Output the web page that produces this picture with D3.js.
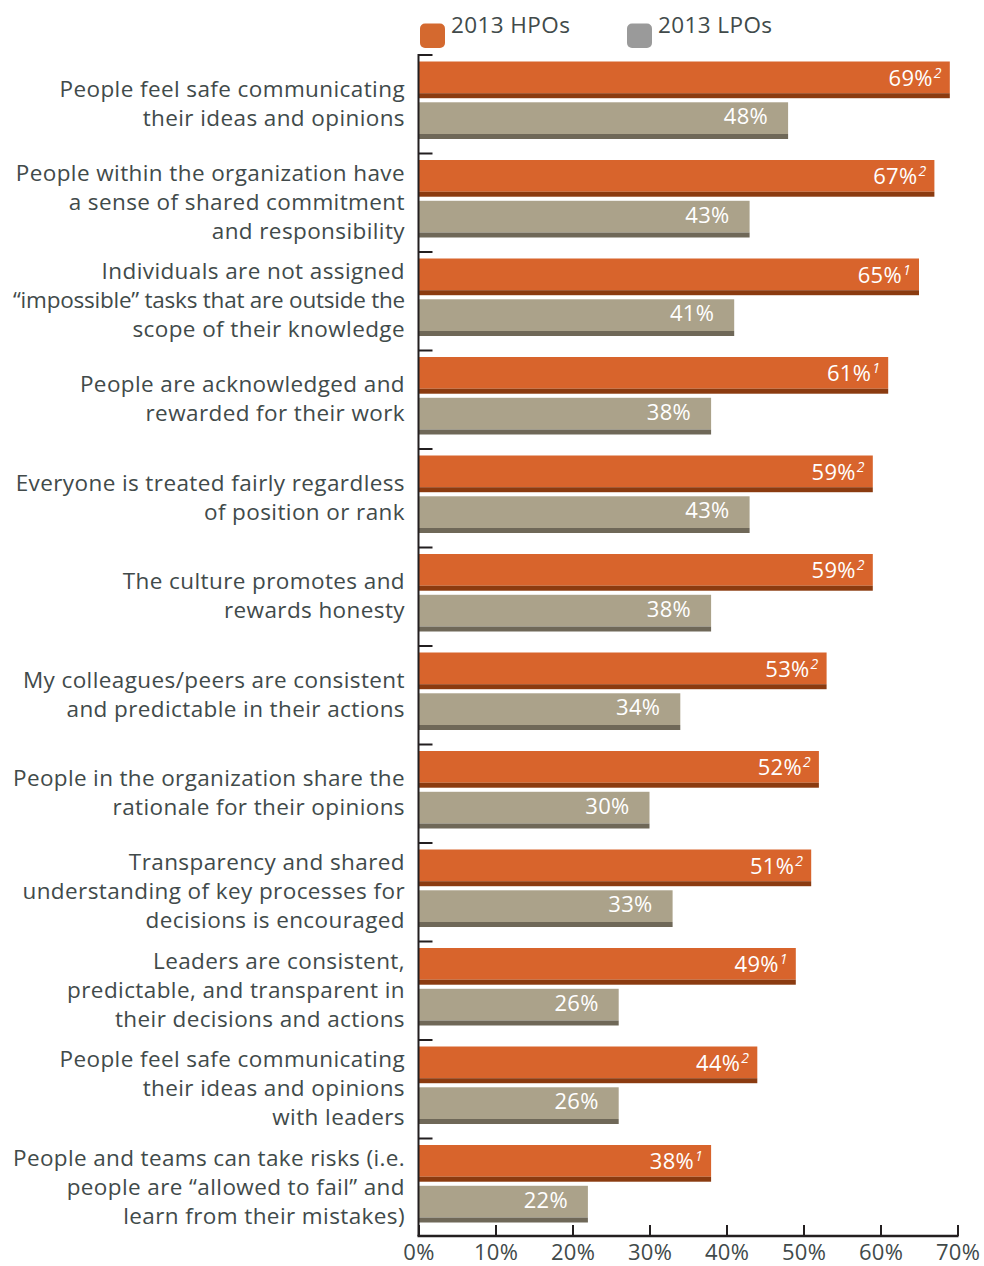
<!DOCTYPE html>
<html>
<head>
<meta charset="utf-8">
<script src="https://cdn.jsdelivr.net/npm/d3@7/dist/d3.min.js"></script>
<style>
  html, body { margin: 0; padding: 0; background: #ffffff; }
  svg { display: block; }
  text { font-family: "Open Sans", Lato, sans-serif; }
</style>
</head>
<body>
<svg id="chart" width="984" height="1266"></svg>
<script>
// Survey statements (label lines), top to bottom
const categories = [
  ["People feel safe communicating", "their ideas and opinions"],
  ["People within the organization have", "a sense of shared commitment", "and responsibility"],
  ["Individuals are not assigned", "\u201Cimpossible\u201D tasks that are outside the", "scope of their knowledge"],
  ["People are acknowledged and", "rewarded for their work"],
  ["Everyone is treated fairly regardless", "of position or rank"],
  ["The culture promotes and", "rewards honesty"],
  ["My colleagues/peers are consistent", "and predictable in their actions"],
  ["People in the organization share the", "rationale for their opinions"],
  ["Transparency and shared", "understanding of key processes for", "decisions is encouraged"],
  ["Leaders are consistent,", "predictable, and transparent in", "their decisions and actions"],
  ["People feel safe communicating", "their ideas and opinions", "with leaders"],
  ["People and teams can take risks (i.e.", "people are \u201Callowed to fail\u201D and", "learn from their mistakes)"]
];

// Percent of respondents agreeing
const hpoValues = [69, 67, 65, 61, 59, 59, 53, 52, 51, 49, 44, 38];
const lpoValues = [48, 43, 41, 38, 43, 38, 34, 30, 33, 26, 26, 22];
// Footnote markers on the HPO values
const hpoNotes = ["2", "2", "1", "1", "2", "2", "2", "2", "2", "1", "2", "1"];

const seriesNames = ["2013 HPOs", "2013 LPOs"];
const xTicks = [0, 10, 20, 30, 40, 50, 60, 70];

const colors = {
  hpo: "#D8642C", hpoEdge: "#8B3B10",
  lpo: "#ABA28A", lpoEdge: "#6F6858",
  hpoKey: "#D4692F", lpoKey: "#9A9A9A",
  text: "#414a4a", axis: "#231f20"
};

const svg = d3.select("#chart");
const plotLeft = 418.5, plotRight = 957.5, plotTop = 54, plotBottom = 1236;

const x = d3.scaleLinear().domain([0, 70]).range([plotLeft, plotRight]);
const ids = categories.map((_, i) => i);
const y = d3.scaleBand().domain(ids).range([plotTop, plotBottom]).padding(0);
const ySub = d3.scaleBand().domain(["hpo", "lpo"]).range([7.5, 85]).paddingInner(0.1);

const rows = ids.map(i => ({
  i, lines: categories[i], hpo: hpoValues[i], lpo: lpoValues[i], note: hpoNotes[i]
}));

// Bars: main fill plus a darker strip along the bottom edge
const edge = 5;
const series = [
  { key: "hpo", fill: colors.hpo, dark: colors.hpoEdge },
  { key: "lpo", fill: colors.lpo, dark: colors.lpoEdge }
];

const g = svg.append("g");
series.forEach(s => {
  const grp = g.append("g");
  grp.selectAll("rect.main").data(rows).join("rect")
    .attr("class", "main")
    .attr("x", x(0))
    .attr("y", d => y(d.i) + ySub(s.key))
    .attr("width", d => x(d[s.key]) - x(0))
    .attr("height", ySub.bandwidth() - edge)
    .attr("fill", s.fill);
  grp.selectAll("rect.edge").data(rows).join("rect")
    .attr("class", "edge")
    .attr("x", x(0))
    .attr("y", d => y(d.i) + ySub(s.key) + ySub.bandwidth() - edge)
    .attr("width", d => x(d[s.key]) - x(0))
    .attr("height", edge)
    .attr("fill", s.dark);
});

// Value labels inside bars
const hpoLab = g.append("g").selectAll("text").data(rows).join("text")
  .attr("x", d => x(d.hpo) - 8)
  .attr("y", d => y(d.i) + ySub("hpo") + 24)
  .attr("text-anchor", "end")
  .attr("fill", "#ffffff")
  .attr("font-size", 22)
  .attr("letter-spacing", 0.3);
hpoLab.append("tspan").text(d => d.hpo + "%");
hpoLab.append("tspan")
  .attr("dy", -8).attr("dx", 1)
  .attr("font-size", 14).attr("font-style", "italic")
  .text(d => d.note);

g.append("g").selectAll("text").data(rows).join("text")
  .attr("x", d => x(d.lpo) - 20)
  .attr("y", d => y(d.i) + ySub("lpo") + 22)
  .attr("text-anchor", "end")
  .attr("fill", "#ffffff")
  .attr("font-size", 22)
  .attr("letter-spacing", 0.3)
  .text(d => d.lpo + "%");

// Category labels, right-aligned left of the axis, one text per line
const lineH = 29, labelRight = 405, labelMaxW = 392, baseSpacing = 0.4;
const labelGroup = svg.append("g")
  .attr("fill", colors.text)
  .attr("font-size", 22.5)
  .attr("text-anchor", "end");
rows.forEach(d => {
  const n = d.lines.length;
  const cy = y(d.i) + y.bandwidth() / 2;
  d.lines.forEach((line, k) => {
    const t = labelGroup.append("text")
      .attr("x", labelRight)
      .attr("y", cy + (k - (n - 1) / 2) * lineH + 8)
      .attr("letter-spacing", baseSpacing)
      .text(line);
    // tighten tracking on any line that would run past the left edge
    const w = t.node().getComputedTextLength();
    if (w > labelMaxW) {
      t.attr("letter-spacing", baseSpacing - (w - labelMaxW) / line.length);
    }
  });
});

// Vertical axis with inward ticks at each category boundary
svg.append("line")
  .attr("x1", plotLeft).attr("x2", plotLeft)
  .attr("y1", plotTop).attr("y2", plotBottom)
  .attr("stroke", colors.axis).attr("stroke-width", 2);
svg.append("g").selectAll("line").data(rows).join("line")
  .attr("x1", plotLeft).attr("x2", plotLeft + 14)
  .attr("y1", d => y(d.i) + 1).attr("y2", d => y(d.i) + 1)
  .attr("stroke", colors.axis).attr("stroke-width", 2);

// Horizontal axis
const xAxis = d3.axisBottom(x).tickValues(xTicks).tickSize(-11).tickPadding(8)
  .tickFormat(d => d + "%");
const ax = svg.append("g").attr("transform", `translate(0,${plotBottom})`).call(xAxis);
ax.select(".domain").attr("stroke", colors.axis).attr("stroke-width", 2.5)
  .attr("d", `M${plotLeft - 1},0H${plotRight + 1}`);
ax.selectAll(".tick line").attr("stroke", colors.axis).attr("stroke-width", 2);
ax.selectAll(".tick text")
  .attr("fill", colors.text)
  .attr("font-size", 22)
  .attr("letter-spacing", 0.3)
  .attr("font-family", "'Open Sans', Lato, sans-serif");

// Legend
const legend = svg.append("g");
const keys = [
  { name: seriesNames[0], color: colors.hpoKey, x: 420 },
  { name: seriesNames[1], color: colors.lpoKey, x: 627 }
];
keys.forEach(k => {
  legend.append("rect")
    .attr("x", k.x).attr("y", 23.5)
    .attr("width", 25).attr("height", 24.5)
    .attr("rx", 5).attr("fill", k.color);
  legend.append("text")
    .attr("x", k.x + 31).attr("y", 33)
    .attr("fill", colors.text)
    .attr("font-size", 22.5)
    .attr("letter-spacing", 0.4)
    .text(k.name);
});
</script>
</body>
</html>
